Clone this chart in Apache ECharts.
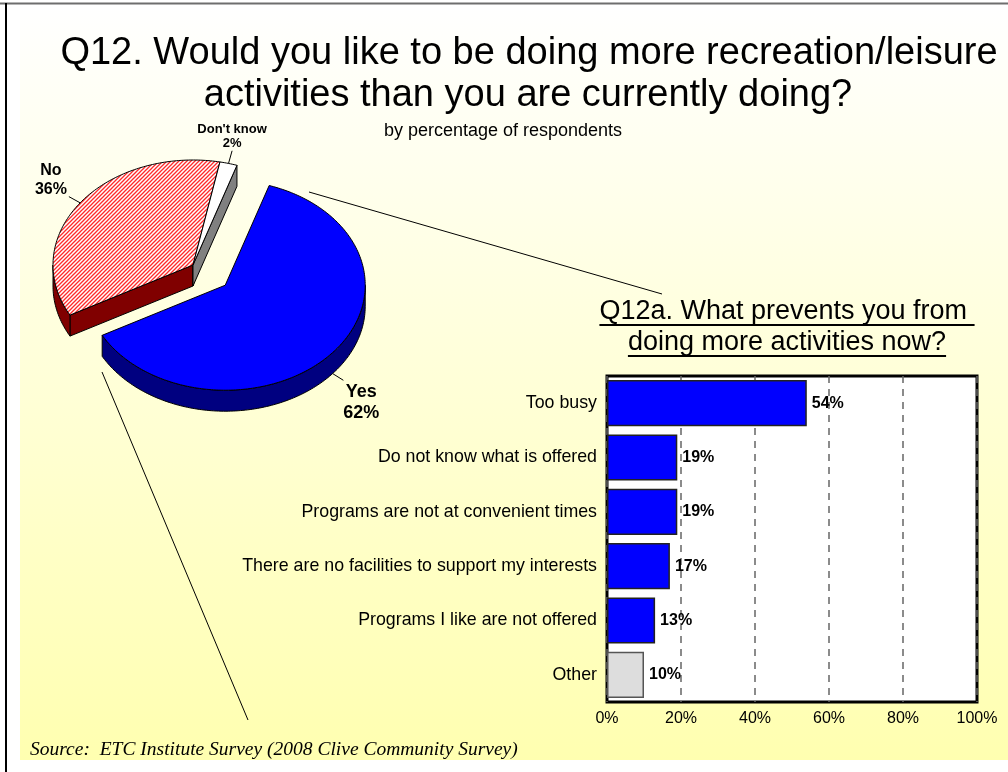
<!DOCTYPE html>
<html>
<head>
<meta charset="utf-8">
<title>Q12 Recreation/Leisure Activities</title>
<script src="https://cdn.jsdelivr.net/npm/echarts@6.0.0/dist/echarts.min.js"></script>
<style>
  html, body { margin: 0; padding: 0; background: #ffffff; }
  #chart { width: 1008px; height: 772px; }
</style>
</head>
<body>
<div id="chart"></div>
<script>
// ---- Data ----
const pieNames = ['Yes', 'No', "Don't know"];
const pieValues = [62, 36, 2];

const barCategories = [
  'Too busy',
  'Do not know what is offered',
  'Programs are not at convenient times',
  'There are no facilities to support my interests',
  'Programs I like are not offered',
  'Other'
];
const barValues = [54, 19, 19, 17, 13, 10];

const xTickMin = 0;
const xTickMax = 100;
const xTickStep = 20;

// ---- Styling / geometry ----
const SANS = '"Liberation Sans", Arial, Helvetica, sans-serif';
const SERIF = '"Liberation Serif", "Times New Roman", serif';

// Tilted pie: centre, ellipse radii, thickness, first-slice angle, explosion per slice
const PIE = { cx: 193, cy: 265, rx: 140, ry: 105, depth: 21, start: 71.7, explode: [42, 0, 0] };

// Diagonal red hatch for the "No" slice
function makeHatch() {
  const c = document.createElement('canvas');
  c.width = 4; c.height = 4;
  const g = c.getContext('2d');
  g.fillStyle = '#ffffff';
  g.fillRect(0, 0, 4, 4);
  g.strokeStyle = '#ff2a2a';
  g.lineWidth = 1.3;
  g.beginPath();
  g.moveTo(-1, 5); g.lineTo(5, -1);
  g.moveTo(-1, 1); g.lineTo(1, -1);
  g.moveTo(3, 5); g.lineTo(5, 3);
  g.stroke();
  return c;
}
const hatch = makeHatch();

// per-slice look: top colour, wall colour, label font size, line height, label nudge
const pieStyles = [
  { top: '#0000ff', side: '#000080', font: 18, lh: 21, dy: 0 },
  { top: { image: hatch, repeat: 'repeat' }, side: '#800000', font: 16, lh: 19, dy: 0 },
  { top: '#ffffff', side: '#808080', font: 13, lh: 14, dy: -5 }
];

function pieRenderItem(params, api) {
  const i = params.dataIndex;
  const total = pieValues.reduce((a, b) => a + b, 0);
  let before = 0;
  for (let j = 0; j < i; j++) before += pieValues[j];
  const val = api.value(0);
  // slices run clockwise from the start angle
  const a0 = PIE.start - before / total * 360;
  const a1 = a0 - val / total * 360;
  const midDeg = (a0 + a1) / 2;
  const mid = midDeg * Math.PI / 180;
  const ex = PIE.explode[i] || 0;
  const cx = PIE.cx + ex * Math.cos(mid);
  const cy = PIE.cy - ex * Math.sin(mid) * PIE.ry / PIE.rx;
  const D = PIE.depth;
  const pt = (deg, dz, f) => {
    const r = deg * Math.PI / 180;
    const k = f || 1;
    return [cx + PIE.rx * k * Math.cos(r), cy - PIE.ry * k * Math.sin(r) + (dz || 0)];
  };
  const arc = (s, e, dz) => {
    const pts = [];
    const n = Math.max(2, Math.ceil(Math.abs(e - s)));
    for (let k = 0; k <= n; k++) pts.push(pt(s + (e - s) * k / n, dz));
    return pts;
  };
  const st = pieStyles[i];
  const zBase = i === 0 ? 30 : i * 10;
  const children = [];
  const poly = (points, fill, z2) => ({
    type: 'polygon',
    shape: { points: points },
    style: { fill: fill, stroke: '#000', lineWidth: 1, lineJoin: 'round' },
    z2: z2
  });
  const c0 = [cx, cy], c1 = [cx, cy + D];
  // side walls facing the viewer
  if (Math.cos(a0 * Math.PI / 180) < 0) children.push(poly([c0, pt(a0), pt(a0, D), c1], st.side, zBase));
  if (Math.cos(a1 * Math.PI / 180) > 0) children.push(poly([c0, pt(a1), pt(a1, D), c1], st.side, zBase));
  // outer rim on the front half
  for (let k = -2; k <= 1; k++) {
    const s = Math.max(a1, -180 + 360 * k);
    const e = Math.min(a0, 360 * k);
    if (e > s) children.push(poly(arc(s, e, 0).concat(arc(e, s, D)), st.side, zBase + 1));
  }
  // top face
  children.push(poly([c0].concat(arc(a1, a0, 0)), st.top, zBase + 2));

  // label with leader
  const front = Math.sin(mid) < 0;
  const dz = front ? D : 0;
  const p1 = pt(midDeg, dz, 1);
  const p2 = pt(midDeg, dz, 1.1);
  children.push({
    type: 'line',
    shape: { x1: p1[0], y1: p1[1], x2: p2[0], y2: p2[1] + (st.dy < 0 ? st.dy / 2 : 0) },
    style: { stroke: '#000', lineWidth: 1 },
    z2: 50
  });
  const c = Math.cos(mid);
  const shift = Math.abs(c) > 0.5 ? Math.sign(c) * 18 : 0;
  children.push({
    type: 'text',
    style: {
      text: pieNames[i] + '\n' + val + '%',
      x: p2[0] + shift,
      y: (front ? p2[1] + 1 : p2[1] + 2) + st.dy,
      align: 'center',
      verticalAlign: front ? 'top' : 'bottom',
      fontFamily: SANS,
      fontWeight: 'bold',
      fontSize: st.font,
      lineHeight: st.lh,
      fill: '#000'
    },
    z2: 50
  });
  return { type: 'group', children: children };
}

// ---- Text measurement for underlined heading ----
const measureCtx = document.createElement('canvas').getContext('2d');
function textWidth(str, font) {
  measureCtx.font = font;
  return measureCtx.measureText(str).width;
}
const subFont = '27px ' + SANS;
const subLine1 = 'Q12a. What prevents you from ';
const subLine2 = 'doing more activities now?';
const subCx = 787;
const w1 = textWidth(subLine1, subFont);
const w2 = textWidth(subLine2, subFont);

const chart = echarts.init(document.getElementById('chart'), null, { renderer: 'canvas', width: 1008, height: 772 });

const option = {
  animation: false,
  backgroundColor: 'transparent',
  graphic: [
    // page background
    {
      type: 'rect', z: -20, silent: true,
      shape: { x: 20, y: 5, width: 988, height: 755 },
      style: {
        fill: new echarts.graphic.LinearGradient(0, 0, 0, 1, [
          { offset: 0, color: '#ffffff' },
          { offset: 1, color: '#ffffb0' }
        ])
      }
    },
    // frame lines
    { type: 'line', z: -10, shape: { x1: 0, y1: 3.5, x2: 1008, y2: 3.5 }, style: { stroke: '#6e6e6e', lineWidth: 2 } },
    { type: 'line', z: -10, shape: { x1: 6, y1: 3, x2: 6, y2: 772 }, style: { stroke: '#000', lineWidth: 2 } },
    // main heading
    {
      type: 'text', z: 10,
      style: { text: 'Q12. Would you like to be doing more recreation/leisure', x: 529, y: 54, align: 'center', verticalAlign: 'middle', font: '38px ' + SANS, fill: '#000' }
    },
    {
      type: 'text', z: 10,
      style: { text: 'activities than you are currently doing?', x: 528, y: 96, align: 'center', verticalAlign: 'middle', font: '38px ' + SANS, fill: '#000' }
    },
    {
      type: 'text', z: 10,
      style: { text: 'by percentage of respondents', x: 503, y: 131, align: 'center', verticalAlign: 'middle', font: '18px ' + SANS, fill: '#000' }
    },
    // connector lines from the "Yes" slice to the breakdown
    { type: 'line', z: 5, shape: { x1: 309, y1: 192, x2: 662, y2: 294 }, style: { stroke: '#000', lineWidth: 1 } },
    { type: 'line', z: 5, shape: { x1: 102, y1: 372, x2: 248, y2: 720 }, style: { stroke: '#000', lineWidth: 1 } },
    // breakdown heading (underlined)
    {
      type: 'text', z: 10,
      style: { text: subLine1, x: subCx - w1 / 2, y: 312, align: 'left', verticalAlign: 'middle', font: subFont, fill: '#000' }
    },
    { type: 'line', z: 10, shape: { x1: subCx - w1 / 2, y1: 325, x2: subCx + w1 / 2, y2: 325 }, style: { stroke: '#000', lineWidth: 2 } },
    {
      type: 'text', z: 10,
      style: { text: subLine2, x: subCx, y: 343, align: 'center', verticalAlign: 'middle', font: subFont, fill: '#000' }
    },
    { type: 'line', z: 10, shape: { x1: subCx - w2 / 2, y1: 356, x2: subCx + w2 / 2, y2: 356 }, style: { stroke: '#000', lineWidth: 2 } },
    // source note
    {
      type: 'text', z: 10,
      style: { text: 'Source:  ETC Institute Survey (2008 Clive Community Survey)', x: 30, y: 750, align: 'left', verticalAlign: 'middle', font: 'italic 19.5px ' + SERIF, fill: '#000' }
    }
  ],
  grid: {
    left: 607, top: 376, width: 370, height: 326,
    show: true, backgroundColor: '#ffffff', borderColor: '#000', borderWidth: 3,
    containLabel: false
  },
  xAxis: {
    type: 'value', min: xTickMin, max: xTickMax, interval: xTickStep,
    axisLine: { show: false }, axisTick: { show: false },
    axisLabel: { formatter: '{value}%', color: '#000', fontSize: 16, fontFamily: SANS, margin: 9 },
    splitLine: { show: true, lineStyle: { color: '#666', width: 1.5, type: [7, 6] } }
  },
  yAxis: {
    type: 'category', data: barCategories, inverse: true,
    axisLine: { show: false }, axisTick: { show: false },
    axisLabel: { color: '#000', fontSize: 17.8, fontFamily: SANS, margin: 10 },
    splitLine: { show: false }
  },
  series: [
    {
      type: 'custom',
      coordinateSystem: 'none',
      renderItem: pieRenderItem,
      data: pieValues.map((v, i) => ({ name: pieNames[i], value: [v] })),
      z: 3,
      silent: true
    },
    {
      type: 'bar',
      data: barValues.map((v, i) => (barCategories[i] === 'Other'
        ? { value: v, itemStyle: { color: '#dddddd', borderColor: '#555', borderWidth: 1.5 } }
        : { value: v })),
      barCategoryGap: '15%',
      itemStyle: { color: '#0000ff', borderColor: '#222', borderWidth: 1.5 },
      label: {
        show: true, position: 'right', distance: 5,
        formatter: '{c}%', color: '#000', fontWeight: 'bold', fontSize: 16, fontFamily: SANS
      },
      z: 2
    }
  ]
};

chart.setOption(option);
</script>
</body>
</html>
